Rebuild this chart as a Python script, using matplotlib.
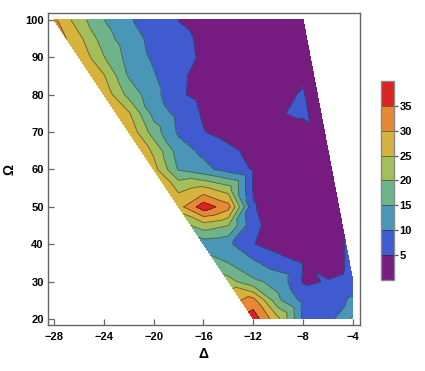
import numpy as np
import matplotlib
matplotlib.use("Agg")
import matplotlib.pyplot as plt
import matplotlib.tri as mtri

plt.rcParams['font.family'] = ['Liberation Sans', 'DejaVu Sans']
plt.rcParams['font.weight'] = 'bold'

nan = np.nan

# grid of the scan: detuning (columns) and Rabi frequency (rows)
delta = [-28, -26, -24, -22, -20, -18, -16, -14, -12, -10, -8, -6, -4]
omega = [100, 95, 90, 85, 80, 75, 70, 65, 60, 55, 50, 45, 40, 35, 30, 25, 20]

# values, nan = not computed
z_rows = [
    [31, 22.2, 15.1, 10.5, 7.6, 4.9, 3.5, 3, 2.5, 2.5, 2, nan, nan],
    [nan, 26.4, 17.4, 12.0, 8.7, 6.2, 4.2, 3, 2.5, 2.5, 2.5, nan, nan],
    [nan, 29, 20.3, 13.2, 9.2, 6.45, 4.4, 3, 2.5, 2.5, 3, nan, nan],
    [nan, nan, 25.5, 14.6, 10.5, 5.8, 3.5, 3, 3, 3, 4.5, nan, nan],
    [nan, nan, 28.5, 18.3, 11.8, 5.7, 3.5, 3, 3, 4.2, 5.3, nan, nan],
    [nan, nan, nan, 25.7, 13.3, 8.5, 4.4, 3, 3, 4.7, 5.7, nan, nan],
    [nan, nan, nan, 29, 17.5, 9.2, 5.2, 3, 3, 3, 3, nan, nan],
    [nan, nan, nan, nan, 24, 12.4, 8.8, 6.2, 3.5, 3, 3, 3, nan],
    [nan, nan, nan, nan, 27, 14.5, 11.5, 8.0, 4.6, 3, 3, 3, nan],
    [nan, nan, nan, nan, nan, 24, 26, 22, 4.5, 3, 3, 3, nan],
    [nan, nan, nan, nan, nan, 28, 38, 32, 5.3, 3, 3, 3, nan],
    [nan, nan, nan, nan, nan, nan, 22.6, 20, 6, 3, 3, 3, nan],
    [nan, nan, nan, nan, nan, nan, 12, 11, 5.2, 3, 3, 3, nan],
    [nan, nan, nan, nan, nan, nan, nan, 15, 11, 7, 4.8, 3.5, nan],
    [nan, nan, nan, nan, nan, nan, nan, 22, 16, 13.5, 4.5, 5.2, 6],
    [nan, nan, nan, nan, nan, nan, nan, nan, 32, 16, 8.5, 7, 11],
    [nan, nan, nan, nan, nan, nan, nan, nan, 38, 26, 9, 8, 16],
]

levels = [0, 5, 10, 15, 20, 25, 30, 35, 40]
band_colors = ['#761c80', '#3f5bcf', '#4996b9', '#6eb38a',
               '#a3be5b', '#d5b33d', '#e58934', '#da2422']

D, W = np.meshgrid(delta, omega)
Z = np.array(z_rows, dtype=float)
ok = np.isfinite(Z)
tri = mtri.Triangulation(D[ok], W[ok])

fig = plt.figure(figsize=(4.25, 3.71), dpi=100)
ax = fig.add_axes([0.1129, 0.124, 0.7341, 0.841])

cs = ax.tricontourf(tri, Z[ok], levels=levels, colors=band_colors)
cl = ax.tricontour(tri, Z[ok], levels=levels[1:-1], colors=[(0.15, 0.15, 0.15, 0.55)],
                   linewidths=0.7)

ax.set_xlim(-28.48, -3.44)
ax.set_ylim(18.39, 101.87)
ax.set_xticks([-28, -24, -20, -16, -12, -8, -4])
ax.set_yticks([20, 30, 40, 50, 60, 70, 80, 90, 100])
ax.tick_params(direction='in', length=4, width=0.9, color='#666666',
               labelsize=8, pad=3)
ax.tick_params(axis='x', pad=5)
for s in ax.spines.values():
    s.set_color('#666666')
    s.set_linewidth(1.0)

ax.set_xlabel('Δ', fontsize=10, fontweight='bold', labelpad=4)
ax.set_ylabel('Ω', fontsize=10, fontweight='bold', labelpad=6)

cax = fig.add_axes([0.8965, 0.2453, 0.0306, 0.5364])
cb = fig.colorbar(cs, cax=cax, ticks=[5, 10, 15, 20, 25, 30, 35])
cb.add_lines(cl)
cb.outline.set_edgecolor('#888888')
cb.outline.set_linewidth(1.0)
cax.tick_params(direction='out', length=3, width=0.9, color='#555555',
                labelsize=8, pad=1)

fig.savefig('out.png', dpi=100)
